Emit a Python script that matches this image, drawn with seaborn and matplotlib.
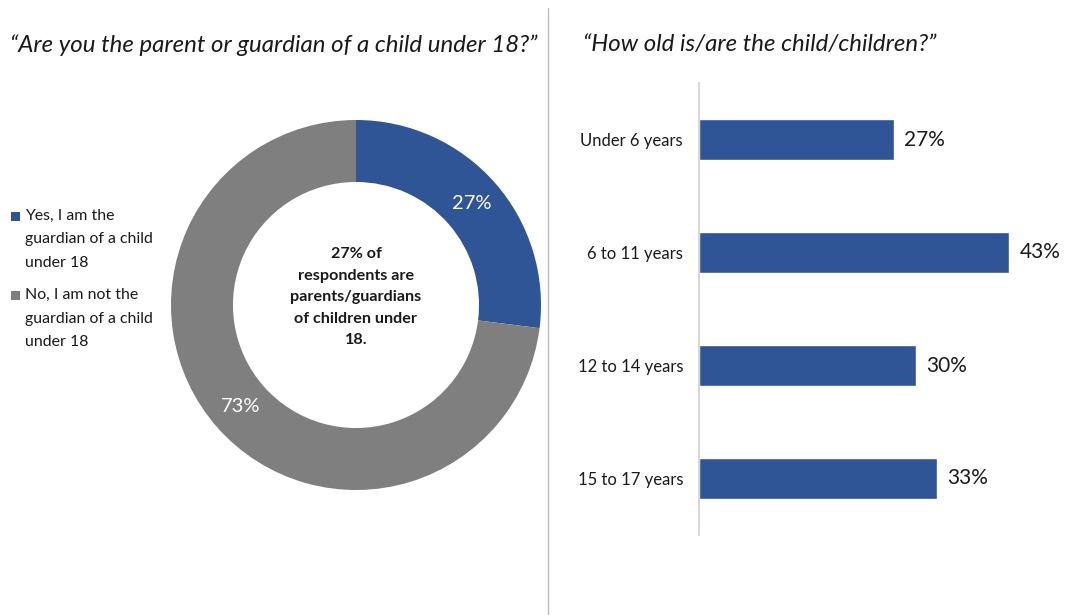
import matplotlib
matplotlib.use("Agg")
import matplotlib.pyplot as plt
import seaborn as sns
import pandas as pd
from matplotlib.lines import Line2D
from matplotlib.patches import Rectangle

# Survey results
parent_labels = ["Yes, I am the\nguardian of a child\nunder 18",
                 "No, I am not the\nguardian of a child\nunder 18"]
parent_shares = [27, 73]

age_groups = ["Under 6 years", "6 to 11 years", "12 to 14 years", "15 to 17 years"]
age_shares = [27, 43, 30, 33]

BLUE = "#2F5597"
GREY = "#7F7F7F"
INK = "#1a1a1a"

sns.set_theme(style="white")
plt.rcParams["font.family"] = ["Lato", "DejaVu Sans"]

W, H = 1065, 615
fig = plt.figure(figsize=(W / 100, H / 100), dpi=100)


def px_axes(x0, y0, x1, y1):
    """Axes from pixel box (top-left origin)."""
    return fig.add_axes([x0 / W, 1 - y1 / H, (x1 - x0) / W, (y1 - y0) / H])


def fx(x):
    return x / W


def fy(y):
    return 1 - y / H


# Titles
fig.text(fx(10), fy(45), "\u201cAre you the parent or guardian of a child under 18?\u201d",
         fontsize=17.3, style="italic", va="center", ha="left", color=INK)
fig.text(fx(583), fy(45), "\u201cHow old is/are the child/children?\u201d",
         fontsize=17.3, style="italic", va="center", ha="left", color=INK)

# Divider between the two panels
fig.add_artist(Line2D([fx(548), fx(548)], [0, fy(8)], transform=fig.transFigure,
                      color="#BFBFBF", lw=1))

# Donut chart
cx, cy, r = 356, 305, 185
ax_pie = px_axes(cx - r, cy - r, cx + r, cy + r)
ring = 0.335
wedges, _, autotexts = ax_pie.pie(
    parent_shares, colors=[BLUE, GREY], startangle=90, counterclock=False,
    radius=1, wedgeprops=dict(width=ring, edgecolor="none"),
    autopct=lambda p: f"{p:.0f}%", pctdistance=1 - ring / 2,
    textprops=dict(color="white", fontsize=14.5))
ax_pie.set_xlim(-1, 1)
ax_pie.set_ylim(-1, 1)
ax_pie.set_aspect("equal")
ax_pie.axis("off")
ax_pie.text(0, 0.043,
            f"{parent_shares[0]}% of\nrespondents are\nparents/guardians\nof children under\n18.",
            ha="center", va="center", fontsize=11.6, fontweight="bold",
            color=INK, linespacing=1.68)

# Legend: colour squares beside the first line of each label
legend_tops = [216, 295]
for label, color, y in zip(parent_labels, (BLUE, GREY), legend_tops):
    fig.add_artist(Rectangle((fx(11), fy(y + 4.5)), 9 / W, 9 / H,
                             transform=fig.transFigure, facecolor=color,
                             edgecolor="none"))
    for k, line in enumerate(label.split("\n")):
        fig.text(fx(25), fy(y + 23.5 * k), line, fontsize=11.4, color=INK,
                 ha="left", va="center")

# Horizontal bar chart of child ages
ax_bar = px_axes(699, 83, 1060, 535)
df = pd.DataFrame({"age": age_groups, "share": age_shares})
sns.barplot(data=df, y="age", x="share", color=BLUE, saturation=1,
            width=0.354, ax=ax_bar, orient="h")
ax_bar.set_xlim(0, 50)
ax_bar.set_ylim(3.5, -0.5)
for i, v in enumerate(age_shares):
    ax_bar.text(v + 1.4, i, f"{v}%", va="center", ha="left", fontsize=15, color=INK)
ax_bar.set_xlabel("")
ax_bar.set_ylabel("")
ax_bar.set_xticks([])
ax_bar.tick_params(axis="y", length=0, pad=11.5, labelsize=12, labelcolor=INK)
for side in ("top", "right", "bottom"):
    ax_bar.spines[side].set_visible(False)
ax_bar.spines["left"].set_color("#D0D0D0")
ax_bar.spines["left"].set_linewidth(1.2)

fig.savefig("out.png", dpi=100, facecolor="white")
